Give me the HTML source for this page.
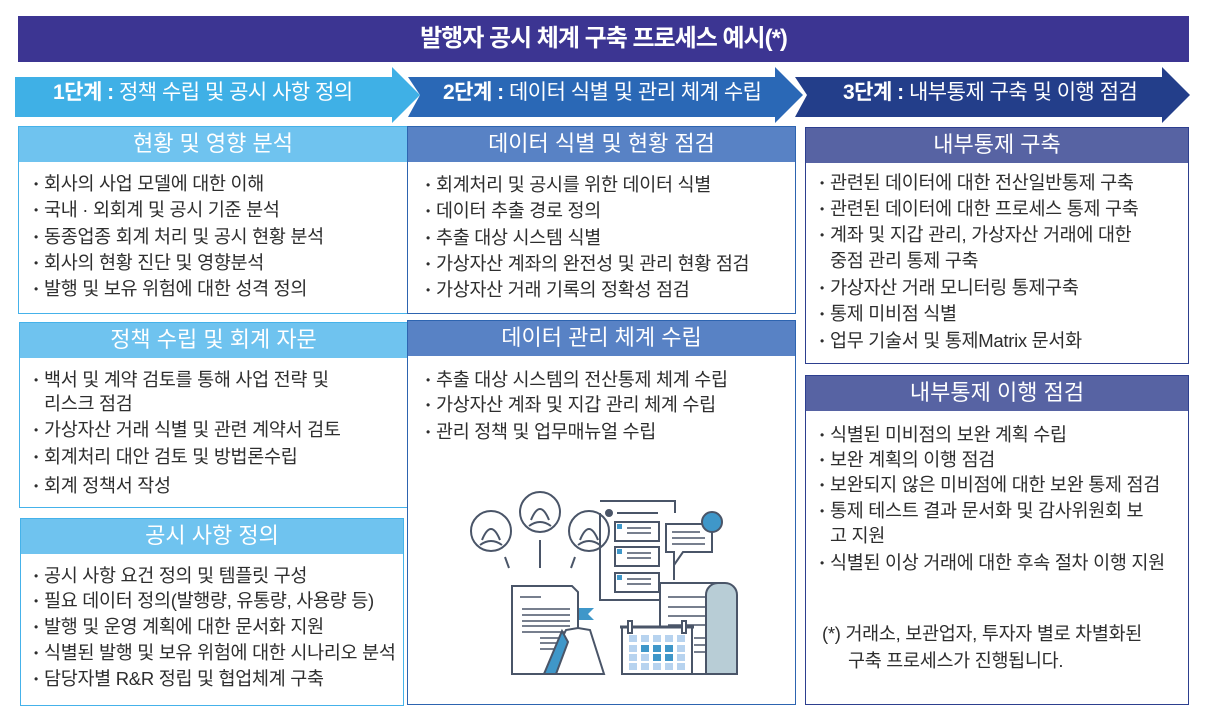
<!DOCTYPE html>
<html><head><meta charset="utf-8">
<style>
*{margin:0;padding:0;box-sizing:border-box}
body{width:1206px;height:723px;background:#fff;position:relative;overflow:hidden;font-family:"Liberation Sans","Noto Sans CJK KR",sans-serif;color:#2e2e2e}
.abs{position:absolute}
.title{left:18px;top:16px;width:1171px;height:46px;background:#3c3592;color:#fff;font-size:24px;font-weight:bold;text-align:center;line-height:46px;letter-spacing:-1px}
.box{position:absolute;border:1.5px solid}
.hd{position:absolute;left:0;top:0;right:0;height:35px;color:#fff;font-size:22px;text-align:center;line-height:34px;letter-spacing:0px}
.ln{position:absolute;font-size:18.5px;letter-spacing:-0.3px;white-space:nowrap;line-height:22px;top:0}
.ln b{font-weight:normal;display:inline-block;width:10px;font-size:12px;vertical-align:2px}
.c1{border-color:#45b2ea}.c1 .hd{background:#6fc3ef}
.c2{border-color:#2d64b0}.c2 .hd{background:#5882c5}
.c3{border-color:#2d3f8f}.c3 .hd{background:#5763a3}
.arr{position:absolute;color:#fff;font-size:21px;line-height:22px;letter-spacing:-0.5px;white-space:nowrap}
</style></head><body>
<div class="abs title">발행자 공시 체계 구축 프로세스 예시(*)</div>

<svg class="abs" style="left:0;top:0" width="1206" height="130">
<polygon points="15,77 392,77 392,67 420,95 392,123 392,117 15,117" fill="#3fb0e6"/>
<polygon points="408,77 775,77 775,67 803,95 775,123 775,117 408,117 420,95" fill="#2a68b6"/>
<polygon points="795,77 1162,77 1162,67 1190,95 1162,123 1162,117 795,117 807,95" fill="#233e8a"/>
</svg>
<div class="arr" style="left:53px;top:82px"><span style="font-weight:bold">1단계 :</span> 정책 수립 및 공시 사항 정의</div>
<div class="arr" style="left:443px;top:82px"><span style="font-weight:bold">2단계 :</span> 데이터 식별 및 관리 체계 수립</div>
<div class="arr" style="left:843px;top:82px"><span style="font-weight:bold">3단계 :</span> 내부통제 구축 및 이행 점검</div>

<!-- col1 -->
<div class="box c1" style="left:18px;top:126px;width:390px;height:188px"><div class="hd">현황 및 영향 분석</div></div>
<div class="ln" style="left:34px;top:173px"><b>•</b>회사의 사업 모델에 대한 이해</div>
<div class="ln" style="left:34px;top:199px"><b>•</b>국내 · 외회계 및 공시 기준 분석</div>
<div class="ln" style="left:34px;top:226px"><b>•</b>동종업종 회계 처리 및 공시 현황 분석</div>
<div class="ln" style="left:34px;top:252px"><b>•</b>회사의 현황 진단 및 영향분석</div>
<div class="ln" style="left:34px;top:278px"><b>•</b>발행 및 보유 위험에 대한 성격 정의</div>

<div class="box c1" style="left:19px;top:322px;width:389px;height:186px"><div class="hd">정책 수립 및 회계 자문</div></div>
<div class="ln" style="left:34px;top:369px"><b>•</b>백서 및 계약 검토를 통해 사업 전략 및</div>
<div class="ln" style="left:44px;top:393px">리스크 점검</div>
<div class="ln" style="left:34px;top:419px"><b>•</b>가상자산 거래 식별 및 관련 계약서 검토</div>
<div class="ln" style="left:34px;top:446px"><b>•</b>회계처리 대안 검토 및 방법론수립</div>
<div class="ln" style="left:34px;top:475px"><b>•</b>회계 정책서 작성</div>

<div class="box c1" style="left:20px;top:518px;width:384px;height:188px"><div class="hd">공시 사항 정의</div></div>
<div class="ln" style="left:34px;top:565px"><b>•</b>공시 사항 요건 정의 및 템플릿 구성</div>
<div class="ln" style="left:34px;top:590px"><b>•</b>필요 데이터 정의(발행량, 유통량, 사용량 등)</div>
<div class="ln" style="left:34px;top:616px"><b>•</b>발행 및 운영 계획에 대한 문서화 지원</div>
<div class="ln" style="left:34px;top:642px"><b>•</b>식별된 발행 및 보유 위험에 대한 시나리오 분석</div>
<div class="ln" style="left:34px;top:668px"><b>•</b>담당자별 R&amp;R 정립 및 협업체계 구축</div>

<!-- col2 -->
<div class="box c2" style="left:407px;top:126px;width:389px;height:188px"><div class="hd">데이터 식별 및 현황 점검</div></div>
<div class="ln" style="left:426px;top:174px"><b>•</b>회계처리 및 공시를 위한 데이터 식별</div>
<div class="ln" style="left:426px;top:200px"><b>•</b>데이터 추출 경로 정의</div>
<div class="ln" style="left:426px;top:227px"><b>•</b>추출 대상 시스템 식별</div>
<div class="ln" style="left:426px;top:253px"><b>•</b>가상자산 계좌의 완전성 및 관리 현황 점검</div>
<div class="ln" style="left:426px;top:279px"><b>•</b>가상자산 거래 기록의 정확성 점검</div>

<div class="box c2" style="left:407px;top:320px;width:389px;height:385px"><div class="hd">데이터 관리 체계 수립</div></div>
<div class="ln" style="left:426px;top:369px"><b>•</b>추출 대상 시스템의 전산통제 체계 수립</div>
<div class="ln" style="left:426px;top:394px"><b>•</b>가상자산 계좌 및 지갑 관리 체계 수립</div>
<div class="ln" style="left:426px;top:421px"><b>•</b>관리 정책 및 업무매뉴얼 수립</div>

<svg class="abs" style="left:400px;top:480px" width="400" height="220" viewBox="0 0 400 220" fill="none" stroke="#4a5568" stroke-width="2">
<circle cx="91" cy="51" r="20"/><circle cx="140" cy="32" r="20"/><circle cx="189" cy="51" r="20"/>
<path d="M82 60 q9 -22 18 0 M80 65 q11 -8 22 0 M131 40 q9 -22 18 0 M129 46 q11 -8 22 0 M180 60 q9 -22 18 0 M178 65 q11 -8 22 0"/>
<path d="M105 77 L109 88 M140 60 L140 88 M175 77 L171 88"/>
<path d="M200 33 V120 H262 M200 21 H275 V33"/>
<circle cx="209" cy="33" r="3" fill="#4a5568"/>
<path d="M217 33 H258"/>
<rect x="215" y="42" width="44" height="19"/><rect x="215" y="67" width="44" height="19"/><rect x="215" y="93" width="44" height="19"/>
<rect x="217" y="44" width="5" height="5" fill="#3f97c9" stroke="none"/><rect x="217" y="69" width="5" height="5" fill="#3f97c9" stroke="none"/><rect x="217" y="95" width="5" height="5" fill="#3f97c9" stroke="none"/>
<path d="M227 48 H251 M227 53 H251 M227 73 H251 M227 78 H251 M227 99 H251 M227 104 H251" stroke-width="1.5"/>
<path d="M266 44 H312 V72 H283 L274 85 V72 H266 Z" fill="#fff"/>
<path d="M272 52 H300 M272 58 H305 M272 64 H305" stroke-width="1.5"/>
<circle cx="312" cy="42" r="10" fill="#3f97c9"/>
<path d="M274 85 V100"/>
<path d="M260 103 H325 a12 12 0 0 1 12 12 V194 H305 a12 12 0 0 1 -12 -12 Z" fill="#b8cdd6"/>
<path d="M260 103 H318 a12 12 0 0 0 -12 12 V194 H260 Z" fill="#fff"/>
<path d="M268 117 H306 M268 127 H306 M268 136 H306 M268 145 H306 M294 158 H306 M294 165 H306 M294 172 H306" stroke-width="1.5"/>
<path d="M112 194 V106 H172 L178 112 V194 Z" fill="#fff"/>
<path d="M120 117 H141 M122 129 H170 M122 135 H170 M122 141 H170 M122 146 H170 M122 152 H170 M140 158 H165 M140 163 H165 M140 169 H165" stroke-width="1.5"/>
<path d="M144 194 L166 150 L178 148 L190 150 L204 194 Z" fill="#fff"/>
<path d="M144 194 L162 151 L168 162 L156 194 Z" fill="#3f97c9"/>
<path d="M178 148 V128" /><path d="M179 128 H194 L188 134 L194 140 H179 Z" fill="#3f97c9" stroke="none"/>
<rect x="222" y="147" width="70" height="47" fill="#fff"/>
<path d="M220 147 H294" stroke-width="3"/>
<g fill="#b7d3ef" stroke="none">
<rect x="229" y="155" width="8" height="7"/><rect x="241" y="155" width="8" height="7"/><rect x="253" y="155" width="8" height="7"/><rect x="265" y="155" width="8" height="7"/><rect x="277" y="155" width="8" height="7"/>
<rect x="229" y="165" width="8" height="7"/><rect x="277" y="165" width="8" height="7"/>
<rect x="229" y="174" width="8" height="7"/><rect x="241" y="174" width="8" height="7"/><rect x="277" y="174" width="8" height="7"/>
<rect x="229" y="183" width="8" height="7"/><rect x="241" y="183" width="8" height="7"/><rect x="253" y="183" width="8" height="7"/><rect x="265" y="183" width="8" height="7"/><rect x="277" y="183" width="8" height="7"/>
</g>
<g fill="#3f97c9" stroke="none"><rect x="241" y="165" width="8" height="7"/><rect x="253" y="165" width="8" height="7"/><rect x="265" y="165" width="8" height="7"/><rect x="253" y="174" width="8" height="7"/><rect x="265" y="174" width="8" height="7"/></g>
<rect x="228" y="141" width="4" height="12" fill="#fff"/><rect x="282" y="141" width="4" height="12" fill="#fff"/>
</svg>

<!-- col3 -->
<div class="box c3" style="left:805px;top:127px;width:384px;height:237px"><div class="hd">내부통제 구축</div></div>
<div class="ln" style="left:820px;top:172px"><b>•</b>관련된 데이터에 대한 전산일반통제 구축</div>
<div class="ln" style="left:820px;top:198px"><b>•</b>관련된 데이터에 대한 프로세스 통제 구축</div>
<div class="ln" style="left:820px;top:224px"><b>•</b>계좌 및 지갑 관리, 가상자산 거래에 대한</div>
<div class="ln" style="left:830px;top:250px">중점 관리 통제 구축</div>
<div class="ln" style="left:820px;top:277px"><b>•</b>가상자산 거래 모니터링 통제구축</div>
<div class="ln" style="left:820px;top:303px"><b>•</b>통제 미비점 식별</div>
<div class="ln" style="left:820px;top:330px"><b>•</b>업무 기술서 및 통제Matrix 문서화</div>

<div class="box c3" style="left:805px;top:375px;width:384px;height:330px"><div class="hd">내부통제 이행 점검</div></div>
<div class="ln" style="left:820px;top:424px"><b>•</b>식별된 미비점의 보완 계획 수립</div>
<div class="ln" style="left:820px;top:449px"><b>•</b>보완 계획의 이행 점검</div>
<div class="ln" style="left:820px;top:474px"><b>•</b>보완되지 않은 미비점에 대한 보완 통제 점검</div>
<div class="ln" style="left:820px;top:500px"><b>•</b>통제 테스트 결과 문서화 및 감사위원회 보</div>
<div class="ln" style="left:830px;top:525px">고 지원</div>
<div class="ln" style="left:820px;top:552px"><b>•</b>식별된 이상 거래에 대한 후속 절차 이행 지원</div>
<div class="ln" style="left:822px;top:623px">(*) 거래소, 보관업자, 투자자 별로 차별화된</div>
<div class="ln" style="left:848px;top:650px">구축 프로세스가 진행됩니다.</div>
</body></html>
